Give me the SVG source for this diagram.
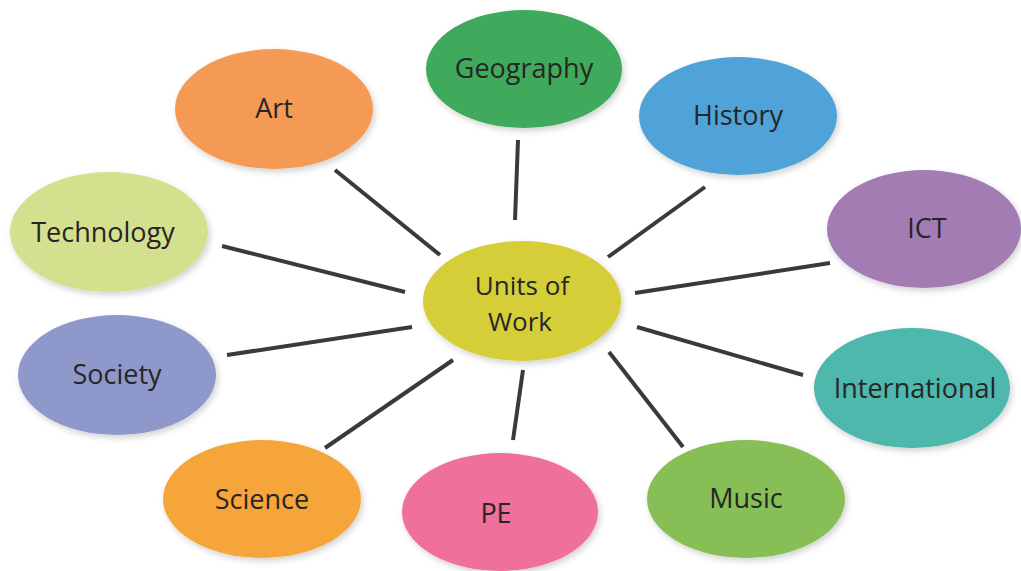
<svg xmlns="http://www.w3.org/2000/svg" width="1021" height="571" viewBox="0 0 1021 571">
<defs>
<filter id="sh" x="-10%" y="-10%" width="125%" height="130%">
<feDropShadow dx="2" dy="3" stdDeviation="3" flood-color="#000" flood-opacity="0.18"/>
</filter>
<style>
.n ellipse{filter:url(#sh);}
.n text{font-family:"Open Sans","Liberation Sans",sans-serif;font-size:27px;fill:#262626;text-anchor:middle;}
#units text{font-size:26px;}
.c line{stroke:#3a3a3a;stroke-width:4;stroke-linecap:butt;}
</style>
</defs>
<rect width="1021" height="571" fill="#ffffff"/>
<g class="c" id="connectors">
<line x1="335" y1="170" x2="440" y2="255"/>
<line x1="518" y1="140" x2="515" y2="220"/>
<line x1="705" y1="187" x2="608" y2="257"/>
<line x1="830" y1="263" x2="635" y2="293"/>
<line x1="637" y1="327" x2="803" y2="375"/>
<line x1="609" y1="352" x2="683" y2="447"/>
<line x1="523" y1="370" x2="513" y2="440"/>
<line x1="453" y1="360" x2="325" y2="448"/>
<line x1="412" y1="327" x2="227" y2="355"/>
<line x1="405" y1="292" x2="222" y2="246"/>
</g>
<g class="n" id="art"><ellipse cx="274" cy="109" rx="99" ry="60" fill="#F59A55"/><text x="274" y="118">Art</text></g>
<g class="n" id="geography"><ellipse cx="524" cy="69" rx="98" ry="59" fill="#3FAA5B"/><text x="524" y="78">Geography</text></g>
<g class="n" id="history"><ellipse cx="738" cy="116" rx="99" ry="59" fill="#4FA3D8"/><text x="738" y="125">History</text></g>
<g class="n" id="ict"><ellipse cx="924" cy="229" rx="97" ry="59" fill="#A27BB3"/><text x="927" y="238">ICT</text></g>
<g class="n" id="international"><ellipse cx="912" cy="388" rx="98" ry="60" fill="#4DB8AB"/><text x="915" y="398">International</text></g>
<g class="n" id="music"><ellipse cx="746" cy="499" rx="99" ry="59" fill="#87BF56"/><text x="746" y="508">Music</text></g>
<g class="n" id="pe"><ellipse cx="500" cy="512" rx="98" ry="59" fill="#EE6F9B"/><text x="496" y="523">PE</text></g>
<g class="n" id="science"><ellipse cx="262" cy="499" rx="99" ry="59" fill="#F6A53B"/><text x="262" y="509">Science</text></g>
<g class="n" id="society"><ellipse cx="117" cy="375" rx="99" ry="60" fill="#8F98CA"/><text x="117" y="384">Society</text></g>
<g class="n" id="technology"><ellipse cx="109" cy="232" rx="99" ry="60" fill="#D5E08F"/><text x="103" y="242">Technology</text></g>
<g class="n" id="units"><ellipse cx="522" cy="301" rx="99" ry="60" fill="#D5CE37"/><text x="522" y="295">Units of</text><text x="520" y="331">Work</text></g>
</svg>
